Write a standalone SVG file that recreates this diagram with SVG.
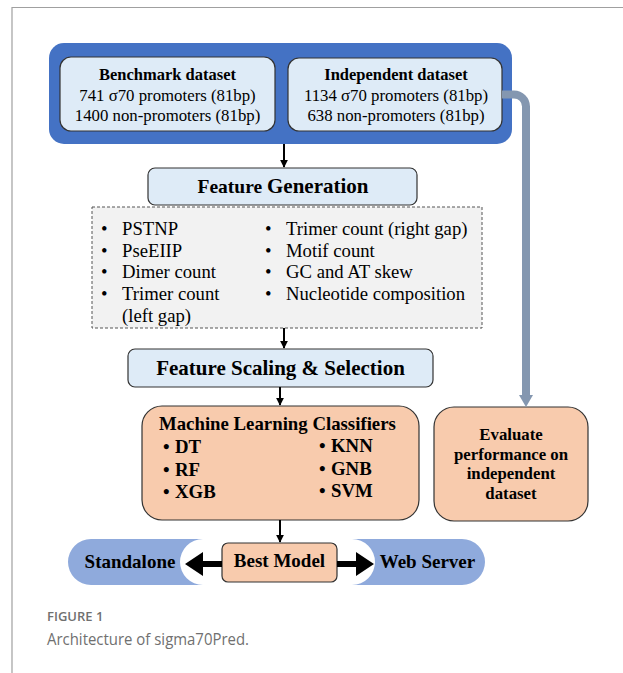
<svg xmlns="http://www.w3.org/2000/svg" width="623" height="673" viewBox="0 0 623 673">
<defs>
<style>
.t{font-family:"Liberation Serif","Times New Roman",serif;fill:#000}
.b{font-weight:bold}
.box{stroke:#333;stroke-width:1.2}
.lb{fill:#DEEBF7}
.or{fill:#F8CBAD}
.pill{fill:#8FAADC}
.ln{stroke:#000;stroke-width:2;fill:none}
</style>
<marker id="ah" viewBox="0 0 10 10" refX="9" refY="5" markerWidth="4" markerHeight="4" orient="auto" markerUnits="strokeWidth">
<path d="M0,0 L10,5 L0,10 Z" fill="#000"/>
</marker>
</defs>
<rect width="623" height="673" fill="#fff"/>
<path d="M12,673 V7.5 H623" fill="none" stroke="#A0A0A0" stroke-width="1.2"/>

<g id="datasets">
<rect x="49" y="43" width="463" height="101" rx="15" fill="#4472C4"/>
</g>
<g id="benchmark">
<rect class="box lb" x="60" y="57" width="215" height="74" rx="11"/>
<text class="t b" x="167.5" y="80" font-size="16.5" text-anchor="middle">Benchmark dataset</text>
<text class="t" x="167.5" y="101" font-size="16.8" text-anchor="middle">741 σ70 promoters (81bp)</text>
<text class="t" x="167.5" y="121" font-size="16.8" text-anchor="middle">1400 non-promoters (81bp)</text>
</g>
<g id="independent">
<rect class="box lb" x="288" y="58" width="214" height="73" rx="11"/>
<text class="t b" x="396" y="80" font-size="16.5" text-anchor="middle">Independent dataset</text>
<text class="t" x="396" y="101" font-size="16.8" text-anchor="middle">1134 σ70 promoters (81bp)</text>
<text class="t" x="396" y="121" font-size="16.8" text-anchor="middle">638 non-promoters (81bp)</text>
</g>

<g id="feature-generation">
<rect class="box lb" x="148" y="168" width="269" height="37" rx="7"/>
<text class="t b" x="283" y="193" text-anchor="middle"><tspan font-size="19.5">Feature </tspan><tspan font-size="21">Generation</tspan></text>
</g>
<g id="features">
<rect x="92" y="207" width="390" height="121" fill="#F2F2F2" stroke="#555" stroke-width="1" stroke-dasharray="3,2"/>
<g class="t" font-size="18.7">
<text x="101" y="235">•</text><text x="122" y="235">PSTNP</text>
<text x="101" y="257">•</text><text x="122" y="257">PseEIIP</text>
<text x="101" y="278">•</text><text x="122" y="278">Dimer count</text>
<text x="101" y="300">•</text><text x="122" y="300">Trimer count</text>
<text x="122" y="322">(left gap)</text>
<text x="265" y="235">•</text><text x="286" y="235">Trimer count (right gap)</text>
<text x="265" y="257">•</text><text x="286" y="257">Motif count</text>
<text x="265" y="278">•</text><text x="286" y="278">GC and AT skew</text>
<text x="265" y="300">•</text><text x="286" y="300">Nucleotide composition</text>
</g>
</g>

<g id="feature-scaling">
<rect class="box lb" x="128" y="349" width="305" height="38" rx="7"/>
<text class="t b" x="280.5" y="375" font-size="21" text-anchor="middle">Feature Scaling &amp; Selection</text>
</g>

<g id="ml-classifiers">
<rect class="box or" x="142" y="406" width="277" height="114" rx="20"/>
<g class="t b" font-size="18.8">
<text x="159" y="430">Machine Learning Classifiers</text>
<text x="163" y="453">•</text><text x="175" y="453">DT</text>
<text x="163" y="476">•</text><text x="175" y="476">RF</text>
<text x="163" y="498">•</text><text x="175" y="498">XGB</text>
<text x="319" y="452">•</text><text x="331" y="452">KNN</text>
<text x="319" y="475">•</text><text x="331" y="475">GNB</text>
<text x="319" y="497">•</text><text x="331" y="497">SVM</text>
</g>
</g>

<g id="evaluate">
<rect class="box or" x="434" y="407" width="154" height="114" rx="20"/>
<g class="t b" font-size="16.8" text-anchor="middle">
<text x="511" y="440">Evaluate</text>
<text x="511" y="460">performance on</text>
<text x="511" y="479">independent</text>
<text x="511" y="499">dataset</text>
</g>
</g>

<g id="standalone">
<path class="pill" d="M91,539 H203 A23,23 0 0 0 203,585 H91 A23,23 0 0 1 91,539 Z"/>
<text class="t b" x="130" y="568" font-size="19" text-anchor="middle">Standalone</text>
</g>
<g id="web-server">
<path class="pill" d="M352,539 H462 A23,23 0 0 1 462,585 H352 A23,23 0 0 0 352,539 Z"/>
<text class="t b" x="427.5" y="568" font-size="19" text-anchor="middle">Web Server</text>
</g>
<g id="best-model">
<rect class="box or" x="222" y="543" width="115" height="39" rx="6"/>
<text class="t b" x="279.5" y="567" font-size="19" text-anchor="middle">Best Model</text>
</g>

<g id="connectors">
<path class="ln" d="M284,144 V167" marker-end="url(#ah)"/>
<path class="ln" d="M284,328 V348" marker-end="url(#ah)"/>
<path class="ln" d="M280,387 V405" marker-end="url(#ah)"/>
<path class="ln" d="M280,520 V542" marker-end="url(#ah)"/>
<path d="M502,94.5 H514 A12,12 0 0 1 526,106.5 V396" fill="none" stroke="#8497B0" stroke-width="8"/>
<path d="M519,395 H533 L526,407 Z" fill="#8497B0"/>
<path d="M222,561 H203 V552 L185,564 L203,576 V567 H222 Z" fill="#000"/>
<path d="M337,561 H356 V552 L374,564 L356,576 V567 H337 Z" fill="#000"/>
</g>

<g id="caption">
<text x="47" y="621" font-family="'Open Sans','Noto Sans',sans-serif" font-size="13" font-weight="600" fill="#707070">FIGURE 1</text>
<text x="47" y="645" font-family="'Open Sans','Noto Sans',sans-serif" font-size="17" fill="#707070" textLength="202" lengthAdjust="spacingAndGlyphs">Architecture of sigma70Pred.</text>
</g>
</svg>
